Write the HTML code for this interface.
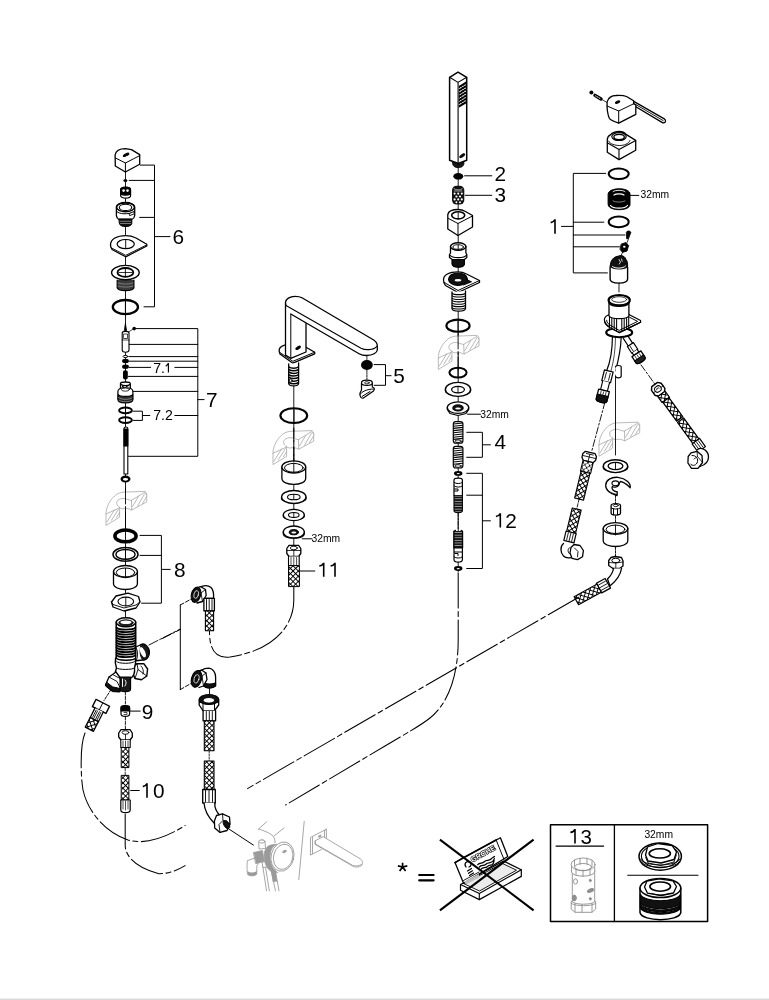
<!DOCTYPE html>
<html><head><meta charset="utf-8">
<style>
html,body{margin:0;padding:0;background:#fff;width:769px;height:1000px;overflow:hidden}
svg{display:block;position:absolute;left:0;top:0;will-change:transform}
.bl{position:absolute;left:0;top:998px;width:769px;height:2px;background:linear-gradient(#f0f0f0 0,#f0f0f0 50%,#d8d8d8 50%,#d8d8d8 100%)}
text{font-family:"Liberation Sans",sans-serif;fill:#000;stroke:none}
</style></head><body>
<svg width="769" height="1000" viewBox="0 0 769 1000">
<defs>
<pattern id="mesh" width="3.7" height="3.7" patternUnits="userSpaceOnUse" patternTransform="rotate(45)">
<rect width="3.7" height="3.7" fill="#fff"/><path d="M0,0 H3.7 M0,0 V3.7" stroke="#000" stroke-width="1.9" fill="none"/>
</pattern>
<pattern id="thr" width="4" height="2.6" patternUnits="userSpaceOnUse">
<rect width="4" height="2.6" fill="#111"/><rect y="1.7" width="4" height="0.55" fill="#fff"/>
</pattern>
<pattern id="hatchg" width="4" height="4" patternUnits="userSpaceOnUse" patternTransform="rotate(-55)">
<line x1="0" y1="0" x2="0" y2="4" stroke="#9a9a9a" stroke-width="0.8"/>
</pattern>
<g id="icon" fill="none" stroke="#a3a3a3" stroke-width="0.75" stroke-linejoin="round">
<path d="M0,34 V23 C0,16 4,8 11,3 C14,1.5 17,1 19,1.1 L38,0.4 C40,0.4 40.7,2 40.7,4 V10.9 L25.8,19 C23,18 21,17 19,17.5 C17,18 15,18 13.6,16.3 L13.6,25.8 Z" fill="#fff"/>
<path d="M0,23 L13.3,17 M25.4,9.4 L38.6,1.4 L40.7,4 M25.4,9.4 L25.8,19"/>
<path d="M13.6,16.3 C10,15 9.5,10 13,8.5 C15,7.5 17,7.3 18,7.5 C20,7.6 22,9 25.4,9.4"/>
<path d="M1,31 L8.5,18.8 M5.5,29.3 L12.3,18.5 M10.5,26.5 L13.5,21.5 M26.5,15.5 L32.5,5.5 M31.5,15 L38.5,3 M36.5,12.5 L40.5,6"/>
</g>
</defs>

<g id="main" fill="none" stroke="#000" stroke-width="1.1" stroke-linejoin="round" stroke-linecap="round">
<!-- ============ LEFT COLUMN (x=125.5) ============ -->
<g id="left">
<!-- center line -->
<path d="M125.5,172 V600" stroke-width="0.9"/>
<!-- cap -->
<path d="M115.3,166 L115.1,155 C116,150 120,148.6 125.3,148.6 L131.5,149.6 L139.7,154.6 L139.7,164.2 L125.4,172 Z" fill="#fff" stroke-width="1.3"/>
<path d="M115.5,158 L125.4,163 L139.7,155.6 M125.4,163 V172" stroke-width="1"/>
<ellipse cx="126.1" cy="154.8" rx="3" ry="0.95" transform="rotate(-28 126.1 154.8)" fill="#000"/>
<!-- dot -->
<ellipse cx="125.4" cy="180.6" rx="2" ry="1.5" fill="#000" stroke="none"/>
<!-- small piece -->
<path d="M120.6,190 C120.6,186 130.6,186 130.6,190 V195.5 C130.6,199 120.6,199 120.6,195.5 Z" fill="#fff" stroke-width="1.2"/>
<path d="M120.8,188.5 C122,187 129,187 130.4,188.5 V194 C128,195.5 123,195.5 120.8,194 Z" fill="#000"/>
<ellipse cx="123.6" cy="190.6" rx="1.3" ry="1.3" fill="#fff" stroke="none"/><ellipse cx="127.5" cy="190.6" rx="1.3" ry="1.3" fill="#fff" stroke="none"/>
<!-- part with thread -->
<path d="M116.4,207.5 C116.4,201.5 134.7,201.5 134.7,207.5 V215.5 C134.5,217.5 133,219 131.8,219.5 H119.3 C118,219 116.6,217.5 116.4,215.5 Z" fill="#fff" stroke-width="1.3"/>
<path d="M119.3,219 H131.8 V223.5 C131.5,227.6 119.6,227.6 119.3,223.5 Z" fill="#111" stroke-width="1"/>
<path d="M120.5,221.3 H130.6 M120.5,223.5 H130.6" stroke="#fff" stroke-width="0.45"/>
<ellipse cx="125.5" cy="207.2" rx="9" ry="4.6" stroke-width="1.5"/>
<ellipse cx="125.5" cy="207.4" rx="6.2" ry="3.1" stroke-width="1.1"/>
<path d="M116.8,211.5 C119,214.3 128,214.8 134.2,211.8" stroke-width="1"/>
<path d="M129.5,213.6 L133.6,211.6 L134.3,213.8 L130,215.5 Z" fill="#fff" stroke-width="0.9"/>
<!-- plate -->
<path d="M110.5,245 C110.5,239 117,235.6 125.7,235.6 C130,235.6 133,236.5 136,238 L146.8,244.2 L146.8,246 L125.7,256.8 L112,249.5 C111,248 110.5,247 110.5,245 Z" fill="#fff" stroke-width="1.3"/>
<ellipse cx="125.7" cy="244.1" rx="8.6" ry="4.6" stroke-width="1.2"/>
<path d="M111.2,247.8 L125.7,255.3 L146.6,245" stroke-width="0.9"/>
<!-- flange -->
<path d="M117.2,280 V288 C119,291.5 132,291.5 133.9,288 V280" fill="#3a3a3a" stroke-width="1.2"/>
<path d="M118,283 C121,284.5 130,284.5 133,283 M118,286 C121,287.5 130,287.5 133,286" stroke="#bbb" stroke-width="0.5"/>
<ellipse cx="125.4" cy="272.6" rx="13.8" ry="7.2" fill="#fff" stroke-width="1.4"/>
<ellipse cx="125.4" cy="272.4" rx="7.9" ry="4.4" stroke-width="1.8"/>
<path d="M119,272.5 H132" stroke-width="0.8"/>
<!-- o-ring -->
<ellipse cx="125.4" cy="307.1" rx="12.6" ry="7.1" stroke-width="2.3"/>
<!-- bracket 6 -->
<path d="M140.4,165.1 H154.5 V306.8 H144 M129.2,180.4 H154.5 M139.7,217.4 H154.5 M154.5,236.6 H170" stroke-width="1"/>
<text x="172.5" y="243.8" font-size="20.8">6</text>
<!-- ===== part 7 ===== -->
<path d="M124.3,330.5 L125.4,323.5 L126.6,330.5 Z" fill="#000" stroke-width="0.8"/>
<path d="M122.2,333 C122.2,330.8 129,330.8 129,333 V350 C129,353 122.2,353 122.2,350 Z" fill="#fff" stroke-width="1.1"/>
<path d="M123.8,334 H127.5 V338.5 H123.8 Z M122.2,340 H129" stroke-width="0.7"/>
<circle cx="134.2" cy="328.6" r="1.8" fill="#000" stroke="none"/>
<path d="M128.5,332 L133,329.2" stroke-width="0.7"/>
<ellipse cx="125.5" cy="356.5" rx="2.4" ry="1.1" fill="#fff" stroke-width="1"/>
<ellipse cx="125.5" cy="361" rx="3.4" ry="2.2" fill="#000" stroke="none"/>
<ellipse cx="125.5" cy="366.8" rx="3.4" ry="2.2" fill="#000" stroke="none"/>
<rect x="123" y="370.2" width="4.8" height="9.2" rx="2" fill="#000" stroke="none"/>
<!-- cartridge -->
<path d="M120.5,389 V383.5 C121,381.5 130,381.5 130.3,383.5 V389" fill="#fff" stroke-width="1.3"/>
<path d="M121,384.5 C123,386 128,386 130,384.5 M122.5,386.5 L124.5,388.5 M126.5,386.5 L128.5,385.5" stroke-width="1.2"/>
<path d="M117.9,391.5 C117.9,386.5 132.9,386.5 132.9,391.5 V399.5 C132.9,404 117.9,404 117.9,399.5 Z" fill="#fff" stroke-width="1.2"/>
<path d="M118.2,394.5 C120,397 131,397 132.6,394.5 V399.5 C131,403.5 120,403.5 118.2,399.5 Z" fill="#2a2a2a"/>
<path d="M118.6,397.6 C121,400 130,400 132.2,397.6 M118.8,400.2 C121,402.4 130,402.4 132,400.2" stroke="#ddd" stroke-width="0.5"/>
<ellipse cx="125.4" cy="389.6" rx="4" ry="1.6" fill="#fff" stroke-width="0.8"/>
<!-- o-rings 7.2 -->
<ellipse cx="125.5" cy="410.4" rx="6.4" ry="2.9" stroke-width="1.9"/>
<ellipse cx="125.5" cy="420.1" rx="6.4" ry="2.9" stroke-width="1.9"/>
<!-- stem -->
<path d="M124,428.5 C124,426.5 127.8,426.5 127.8,428.5 V474 H124 Z" fill="#fff" stroke-width="1.1"/>
<path d="M124,429 H127.8 V446 H124 Z" fill="#000"/>
<ellipse cx="125.5" cy="479" rx="5" ry="3.5" fill="#000" stroke="none"/>
<ellipse cx="125.5" cy="479.3" rx="2.6" ry="1.4" fill="#fff" stroke="none"/>
<!-- bracket 7 -->
<path d="M136,328.6 H197.8 V456.3 H128.5 M129.3,344.4 H197.8 M129.3,356.6 H197.8 M129.3,361.2 H197.8 M129.3,367.4 H150.6 M174.8,367.4 H197.8 M128.3,376.4 H197.8 M133.2,391.4 H197.8 M197.8,399.6 H204.1 M133.2,411.2 H142.4 V420.4 H133.2 M142.4,415.5 H149.8 M174.8,415.5 H197.8" stroke-width="1"/>
<text x="153.15" y="372.6" font-size="14.1">7.</text><path d="M168.4,372.6 V363.0 M168.2,363.5 C167.5,365.2 166.0,366.0 165.8,366.3" stroke-width="1.15" stroke-linecap="butt" fill="none"/>
<text x="153.25" y="420.1" font-size="14.1">7.2</text>
<text x="206.1" y="406.7" font-size="20.8">7</text>
<!-- icon left -->
<use href="#icon" x="106" y="491"/>
<!-- ===== part 8 ===== -->
<ellipse cx="125.5" cy="535.9" rx="10.6" ry="5.95" stroke-width="3.5"/>
<ellipse cx="125.5" cy="554.4" rx="12.5" ry="6.9" stroke-width="1.5"/>
<ellipse cx="125.5" cy="554.4" rx="9.6" ry="4.9" stroke-width="1.4"/>
<path d="M113.5,571.5 V583.5 C113.5,591.5 137.4,591.5 137.4,583.5 V571.5" fill="#fff" stroke-width="1.3"/>
<ellipse cx="125.5" cy="571.5" rx="11.95" ry="6" fill="#fff" stroke-width="1.3"/>
<ellipse cx="125.5" cy="572.5" rx="9.2" ry="4.5" stroke-width="1"/>
<path d="M111.5,602 L116,596 L128,593.2 L138.5,596.5 L140,602 L136,608 L124,611 L113,607 Z" fill="#fff" stroke-width="1.3"/>
<path d="M111.5,602 L113,604.5 L124,608 L136,605 L140,602" stroke-width="0.9"/>
<ellipse cx="125.8" cy="601.5" rx="7.8" ry="4.4" stroke-width="1.1"/>
<path d="M140,535.4 H161.4 V603.2 H141.6 M140,555.4 H161.4 M161.4,569.4 H170.2" stroke-width="1"/>
<text x="173.9" y="577.1" font-size="20.8">8</text>
<!-- ===== valve body ===== -->
<path d="M125.5,611 V618" stroke-width="0.9"/>
<!-- right upper outlet -->
<path d="M134,648 L141,644.5 C145,642.5 150,648 149.3,653 C149,657 146,660.5 142.5,660 L134,661 Z" fill="#fff" stroke-width="1.3"/>
<path d="M141,644.5 C144,643 149.5,648 149,654 C148.5,658 146,660 143.5,660 C140.5,659 139,651 141,644.5 Z" fill="#1a1a1a" stroke-width="1"/>
<ellipse cx="142.8" cy="652.2" rx="2.3" ry="5.5" transform="rotate(-25 142.8 652.2)" fill="#fff" stroke="none"/>
<path d="M136.5,648.5 C138,652 138,656 136.5,660" stroke-width="0.9"/>
<!-- right lower hex -->
<path d="M133.5,667 L137,663.6 L144,663.8 L147.6,669 L146.8,676 L141.5,679.7 L135,678.5 L132.7,673 Z" fill="#fff" stroke-width="1.4"/>
<path d="M137,663.6 L138,669.5 L146.8,676 M138,669.5 L135,678.5 M141,666 C143,668 144,671 143,674" stroke-width="0.9"/>
<!-- body -->
<path d="M115.6,658 C115,661 115.5,665 116.5,668 L115.3,672 C115.3,676 118,678 121,678 H131 C134,676 134.9,672 134.5,668 C135.5,665 135.8,661 135.5,658 Z" fill="#fff" stroke-width="1.4"/>
<path d="M116.5,661.5 C118,664 133,664 134.5,661.5 M116.5,668 C118,670 133,670 134.5,668" stroke-width="1"/>
<!-- threaded shank -->
<path d="M116.2,622 V657.5 C116.2,661 135.7,661 135.7,657.5 V622" fill="#fff" stroke-width="1.5"/>
<g stroke-width="1.65">
<path d="M116.5,627.5 C118,630.3 133.8,630.3 135.4,627.5 M116.5,630 C118,632.8 133.8,632.8 135.4,630 M116.5,632.5 C118,635.3 133.8,635.3 135.4,632.5 M116.5,635 C118,637.8 133.8,637.8 135.4,635 M116.5,637.5 C118,640.3 133.8,640.3 135.4,637.5 M116.5,640 C118,642.8 133.8,642.8 135.4,640 M116.5,642.5 C118,645.3 133.8,645.3 135.4,642.5 M116.5,645 C118,647.8 133.8,647.8 135.4,645 M116.5,647.5 C118,650.3 133.8,650.3 135.4,647.5 M116.5,650 C118,652.8 133.8,652.8 135.4,650 M116.5,652.5 C118,655.3 133.8,655.3 135.4,652.5 M116.5,655 C118,657.8 133.8,657.8 135.4,655"/>
</g>
<ellipse cx="125.95" cy="622.3" rx="9.75" ry="4.5" fill="#fff" stroke-width="1.5"/>
<ellipse cx="125.95" cy="622.8" rx="7.2" ry="3" fill="#222" stroke-width="0.8"/>
<ellipse cx="125.95" cy="622.2" rx="5.5" ry="1.8" fill="#fff" stroke="none"/>
<!-- left outlet -->
<path d="M116,672 L109,677 L105.5,685 L112,690.5 L120,691.5 L124,683 Z" fill="#fff" stroke-width="1.3"/>
<path d="M106.5,682.5 L105.5,686 L112.5,691.6 L119.5,692 L120.2,688.5 L113,687 Z" fill="#111" stroke-width="1"/>
<path d="M109,677 L117,681.5 L120.5,688.5 M113.5,675 L121,679" stroke-width="0.9"/>
<!-- bottom outlet -->
<path d="M120,677 V689 C120,692.5 130.6,692.5 130.6,689 V677 Z" fill="#1a1a1a" stroke-width="1.1"/>
<path d="M122.5,679 V686.5 M125,680 C126.5,681.5 126.5,684 125,686" stroke="#fff" stroke-width="1"/>
<!-- dashed from upper outlet to bracket -->
<path d="M149,645 L180.2,629" stroke-width="0.9" stroke-dasharray="10 2 2 2"/>
<!-- part 9 -->
<path d="M125.4,692 V706" stroke-width="0.9" stroke-dasharray="3 1.5"/>
<path d="M121,708 C121,705 129.6,705 129.6,708 V714 C129.6,717.2 121,717.2 121,714 Z" fill="#fff" stroke-width="1.2"/>
<path d="M121,707.5 C121,705 129.6,705 129.6,707.5 V711 H121 Z" fill="#000"/>
<path d="M124,712.5 H127 V714.5 H124" stroke-width="0.7"/>
<path d="M130.5,711.1 H140.2" stroke-width="1"/>
<text x="141.7" y="719.2" font-size="20.8">9</text>
<path d="M125.4,717 V729" stroke-width="0.9" stroke-dasharray="3 1.5"/>
<!-- left connector (rotated) -->
<path d="M110.8,689.9 L104,700.5" stroke-width="0.95" stroke-dasharray="2.5 1.5"/>
<g transform="translate(101 706.4) rotate(27)">
<path d="M-7.6,-4 H7.6 V4 H-7.6 Z" fill="#fff" stroke-width="1.4"/>
<path d="M0,-4 V4" stroke-width="0.9"/>
<path d="M-4.6,4 V14.8 H4.6 V4" fill="#fff" stroke-width="1.3"/>
<path d="M-2.6,5.5 V13.5 M-1,5.5 V13.5 M1,5.5 V13.5 M2.6,5.5 V13.5" stroke-width="0.8"/>
<rect x="-4.6" y="14.8" width="9.2" height="10.8" fill="url(#mesh)" stroke-width="1.3"/>
</g>
<!-- hose 10 -->
<path d="M118.7,733 L121,729.6 H130 L132.3,733 V737 L130,740 H121 L118.7,737 Z" fill="#fff" stroke-width="1.3"/>
<ellipse cx="125.5" cy="732.5" rx="3.4" ry="1.8" stroke-width="0.9"/>
<path d="M125.5,734.3 V740" stroke-width="0.8"/>
<path d="M120.8,740 V747.5 H130.2 V740" fill="#fff" stroke-width="1.1"/>
<path d="M123,741 V747 M125.5,741 V747 M128,741 V747" stroke-width="0.7"/>
<rect x="121.6" y="747.5" width="7.3" height="20.1" fill="url(#mesh)" stroke-width="1"/>
<path d="M125.2,767.6 V775.4" stroke-width="0.8" stroke-dasharray="3 1.5"/>
<rect x="121.6" y="775.4" width="7.3" height="24.7" fill="url(#mesh)" stroke-width="1"/>
<path d="M120.8,800 V810 C121,813.5 130,813.5 130.2,810 V800 Z" fill="#fff" stroke-width="1.2"/>
<path d="M123,801 V809 M125.5,801 V810 M128,801 V809" stroke-width="0.7"/>
<path d="M130.7,790.5 H139.3" stroke-width="1"/>
<path d="M147.0,797.8 V783.3 M146.8,783.8 C146.1,785.5 144.6,786.3 142.8,786.6" stroke-width="1.60" stroke-linecap="butt" fill="none"/><text x="152.9" y="797.8" font-size="20.8">0</text>
</g>
<!-- ============ MIDDLE COLUMN (x=294) ============ -->
<g id="mid">
<path d="M293.8,385 V588" stroke-width="0.9"/>
<!-- base plate -->
<path d="M284.5,345.1 C280,346.5 278.8,349 279.2,351.5 L280,354 L292.9,363.2 L314.7,353.8 V352.2 L306,347.2" fill="#fff" stroke-width="1.3"/>
<path d="M279.8,352.5 L292.9,361.3 L314.7,352.2" stroke-width="1"/>
<!-- column -->
<path d="M285.5,302.6 V355.1 L290.8,358.3 L306,352 V322.7 Z" fill="#fff" stroke-width="1.3"/>
<path d="M290.8,314 V358.3" stroke-width="1"/>
<ellipse cx="298.1" cy="347.8" rx="2.6" ry="1" transform="rotate(-30 298.1 347.8)" fill="#000"/>
<!-- spout bar -->
<path d="M286,305.5 L285.5,302.6 C285.5,299 290,296.3 295,296.3 C298,296.3 300,296.6 302,297.8 L373.7,340 C376.5,341.8 377.4,343.5 377.3,346 V350 C377,352.8 373,355.5 366.4,355.5 C363.5,355.5 361,354.8 359.1,353.7 L290.8,314" fill="#fff" stroke-width="1.3"/>
<path d="M286,305.5 L361,348.2 C363.5,349.5 366,349.8 369.1,349.6 C372.5,349.3 375.5,348 376.8,346.3" stroke-width="1.1"/>
<!-- threaded stem -->
<path d="M288.7,364 V383.5 C289,386.8 298.3,386.8 298.6,383.5 V363" fill="#fff" stroke-width="1.3"/>
<path d="M289,367 C291,368.6 296.5,368.6 298.3,367 M289,369.6 C291,371.2 296.5,371.2 298.3,369.6 M289,372.2 C291,373.8 296.5,373.8 298.3,372.2 M289,374.8 C291,376.4 296.5,376.4 298.3,374.8 M289,377.4 C291,379 296.5,379 298.3,377.4 M289,380 C291,381.6 296.5,381.6 298.3,380 M289,382.6 C291,384.2 296.5,384.2 298.3,382.6" stroke-width="1.5"/>
<ellipse cx="290.8" cy="380.5" rx="1.3" ry="1.8" fill="#fff" stroke-width="0.9"/>
<!-- part 5 -->
<path d="M366.9,356 V360" stroke-width="0.8"/>
<ellipse cx="366.9" cy="365" rx="5.9" ry="5" fill="#000" stroke="none"/>
<path d="M366.9,370 V380" stroke-width="0.9" stroke-dasharray="1.6 1"/>
<path d="M361.5,383 V390 L360,393 C359.5,396.5 361,398.5 363,398.2 L373.5,391 C375,389 374.5,387.5 372.3,387 V383" fill="#fff" stroke-width="1.2"/>
<ellipse cx="366.9" cy="382.8" rx="5.4" ry="2.6" fill="#fff" stroke-width="1.2"/>
<ellipse cx="366.9" cy="382.8" rx="2.4" ry="1.1" stroke-width="0.8"/>
<path d="M360,394.5 C361,392 367,389 373.5,389 M362,396.5 L370,391.5" stroke-width="1"/>
<path d="M374.1,364.6 H385.5 V385.3 H374.1 M385.5,375.7 H391.1" stroke-width="1"/>
<text x="393.3" y="382.9" font-size="20.8">5</text>
<!-- o-ring -->
<ellipse cx="293.8" cy="415.6" rx="13.4" ry="7.4" fill="none" stroke-width="2.1"/>
<use href="#icon" x="273" y="430.2"/>
<path d="M293.8,430 V461" stroke-width="0.9" stroke-dasharray="8 2 2 2"/>
<!-- sleeve -->
<path d="M281.9,466.9 V478.2 C281.9,486.5 305.7,486.5 305.7,478.2 V466.9" fill="#fff" stroke-width="1.3"/>
<ellipse cx="293.8" cy="466.9" rx="11.9" ry="6.1" fill="#fff" stroke-width="1.3"/>
<ellipse cx="293.8" cy="467.8" rx="9.3" ry="4.4" stroke-width="1"/>
<!-- washers -->
<path d="M281.5,497 V499 C282,503 305,503 306,499 V497" fill="#fff" stroke-width="1.2"/>
<ellipse cx="293.8" cy="497" rx="12.2" ry="6.5" fill="#fff" stroke-width="1.3"/>
<ellipse cx="293.8" cy="497" rx="6.3" ry="2.8" stroke-width="1.1"/>
<path d="M283.3,515 V516.5 C284,520.5 303.6,520.5 304.3,516.5 V515" fill="#fff" stroke-width="1.2"/>
<ellipse cx="293.8" cy="515" rx="10.5" ry="5.6" fill="#fff" stroke-width="1.3"/>
<ellipse cx="293.8" cy="515" rx="5.3" ry="2.5" stroke-width="1.1"/>
<path d="M283.3,532 V534 C284,539.5 303.6,539.5 304.3,534 V532" fill="#fff" stroke-width="1.3"/>
<ellipse cx="293.8" cy="532" rx="10.5" ry="6" fill="#fff" stroke-width="1.3"/>
<ellipse cx="293.8" cy="532.2" rx="4.6" ry="2.6" fill="#1a1a1a" stroke-width="1"/>
<ellipse cx="293.8" cy="532.6" rx="2.4" ry="1" fill="#fff" stroke="none"/>
<path d="M302.2,538.8 H312" stroke-width="1"/>
<text x="311.6" y="542.3" font-size="10.3">32mm</text>
<!-- hose 11 -->
<path d="M286.8,548.5 L289,545.3 H298.6 L300.8,548.5 V553.5 L298.6,556.5 H289 L286.8,553.5 Z" fill="#fff" stroke-width="1.3"/>
<ellipse cx="293.8" cy="548" rx="3.5" ry="1.8" stroke-width="0.9"/>
<path d="M293.8,550 V556.5 M286.8,550.5 L293.8,550.5 L300.8,550.5" stroke-width="0.8"/>
<path d="M288.5,556.5 V565.6 H299.2 V556.5" fill="#fff" stroke-width="1.1"/>
<path d="M291,557.5 V565 M293.8,557.5 V565 M296.6,557.5 V565" stroke-width="0.7"/>
<rect x="288.9" y="565.6" width="10.5" height="21" fill="url(#mesh)" stroke-width="1"/>
<path d="M300.1,571 H314.8" stroke-width="1"/>
<path d="M323.7,576.8 V562.7 M323.5,563.2 C322.8,564.9 321.3,565.7 319.3,566.0" stroke-width="1.60" stroke-linecap="butt" fill="none"/><path d="M335.0,576.8 V562.7 M334.8,563.2 C334.1,564.9 332.6,565.7 330.6,566.0" stroke-width="1.60" stroke-linecap="butt" fill="none"/>
</g>
<!-- ============ COLUMN 3 (x=458.2) ============ -->
<g id="c3">
<path d="M458.2,164 V572" stroke-width="0.9"/>
<!-- hand shower -->
<path d="M449.6,77.3 L458,72.2 L466.7,77.3 V160.2 L458.3,163.5 L449.6,160.2 Z" fill="#fff" stroke-width="1.5"/>
<path d="M449.6,77.3 L458,82.4 L466.7,77.3 M458.1,82.4 V163.5" stroke-width="1.1"/>
<g fill="#000" stroke="none">
<path d="M458.8,86 L466,81.6 V84.2 L458.8,88.6 Z"/>
<path d="M458.8,89.2 L466,84.8 V87.4 L458.8,91.8 Z"/>
<path d="M458.8,92.4 L466,88 V90.6 L458.8,95 Z"/>
<path d="M458.8,95.6 L466,91.2 V93.8 L458.8,98.2 Z"/>
<path d="M458.8,98.8 L466,94.4 V97 L458.8,101.4 Z"/>
<path d="M458.8,102 L466,97.6 V100.2 L458.8,104.6 Z"/>
<path d="M458.8,105.2 L466,100.8 V103.4 L458.8,107.8 Z"/>
</g>
<g fill="#fff" stroke="none">
<circle cx="460.6" cy="87.8" r="0.55"/><circle cx="463" cy="86.3" r="0.55"/><circle cx="465" cy="85" r="0.55"/>
<circle cx="460.6" cy="91" r="0.55"/><circle cx="463" cy="89.5" r="0.55"/><circle cx="465" cy="88.2" r="0.55"/>
<circle cx="460.6" cy="94.2" r="0.55"/><circle cx="463" cy="92.7" r="0.55"/><circle cx="465" cy="91.4" r="0.55"/>
<circle cx="460.6" cy="97.4" r="0.55"/><circle cx="463" cy="95.9" r="0.55"/><circle cx="465" cy="94.6" r="0.55"/>
<circle cx="460.6" cy="100.6" r="0.55"/><circle cx="463" cy="99.1" r="0.55"/><circle cx="465" cy="97.8" r="0.55"/>
<circle cx="460.6" cy="103.8" r="0.55"/><circle cx="463" cy="102.3" r="0.55"/><circle cx="465" cy="101" r="0.55"/>
</g>
<ellipse cx="462.2" cy="155.7" rx="2.8" ry="1" transform="rotate(-35 462.2 155.7)" fill="#000"/>
<path d="M452.5,162.3 C452.5,166.5 455,167.5 458.3,167.5 C461.5,167.5 464,166.5 464,162.3 L458.3,164.5 Z" fill="#1a1a1a" stroke-width="0.9"/>
<!-- part 2 -->
<ellipse cx="458.3" cy="176.3" rx="5" ry="3.3" fill="#000" stroke="none"/>
<path d="M464.6,175.8 H491.8" stroke-width="1"/>
<text x="494.6" y="181.2" font-size="20.8">2</text>
<!-- part 3 -->
<rect x="452" y="185.7" width="12.3" height="18.9" rx="4.5" fill="#111" stroke="none"/>
<g fill="#fff" stroke="none">
<circle cx="454.6" cy="193.6" r="1.05"/><circle cx="458.2" cy="193.6" r="1.05"/><circle cx="461.8" cy="193.6" r="1.05"/>
<circle cx="456.4" cy="196.5" r="1.1"/><circle cx="460" cy="196.5" r="1.1"/>
<circle cx="454.6" cy="199.4" r="1.1"/><circle cx="458.2" cy="199.4" r="1.1"/><circle cx="461.8" cy="199.4" r="1.1"/>
<circle cx="456.4" cy="202.2" r="0.95"/><circle cx="460" cy="202.2" r="0.95"/>
</g>
<path d="M454,188.8 C456,190.3 460.5,190.3 462.3,188.8 M454.3,191 H462" stroke="#fff" stroke-width="0.6"/>
<path d="M465.2,195.3 H491.8" stroke-width="1"/>
<text x="494.4" y="201.7" font-size="20.8">3</text>
<!-- nut cube -->
<path d="M447.8,214.5 C448.5,211 453,209.5 458,209.5 C461,209.5 463,210 465,211.2 L472.5,215.5 V227 L458,235.5 L447.8,229 Z" fill="#fff" stroke-width="1.3"/>
<path d="M448.5,218.5 L458,223.5 L472.5,216 M458,223.5 V235.5" stroke-width="1"/>
<ellipse cx="458.2" cy="215.3" rx="6.5" ry="3.6" stroke-width="1.6"/>
<!-- fitting -->
<path d="M450.5,246.5 V253 L449.5,254.5 V257.5 L452.2,259.5 V264 C453,268 463.5,268 464.3,264 V259.5 L466.8,257.5 V254.5 L465.9,253 V246.5" fill="#fff" stroke-width="1.3"/>
<path d="M452.3,259.5 H464.3 V264 C463.5,268 453,268 452.3,264 Z" fill="#111"/>
<path d="M449.8,255 C452,258.5 464.5,258.5 466.5,255" stroke-width="1.1"/>
<ellipse cx="458.2" cy="246.5" rx="7.7" ry="3.8" fill="#fff" stroke-width="1.4"/>
<ellipse cx="458.2" cy="247" rx="5.3" ry="2.3" stroke-width="0.9"/>
<!-- flange -->
<path d="M443.5,280 C443.5,275 449,271.8 458,271.8 C461.5,271.8 464,272.5 466.5,274 L479.5,280.5 V282.5 L458,292.5 L445.5,285.5 C444,284 443.5,282 443.5,280 Z" fill="#fff" stroke-width="1.3"/>
<path d="M444,282.3 L458,290.5 L479.5,280.5" stroke-width="1"/>
<ellipse cx="458" cy="279.2" rx="9.5" ry="6.2" fill="#111"/>
<path d="M466.5,279.5 L471.5,281.8 L463.5,285" fill="#111" stroke-width="0.9"/>
<ellipse cx="458" cy="280.2" rx="3.3" ry="1.2" fill="#fff" stroke="none"/>
<!-- threaded -->
<path d="M452,292 V308.5 C452.5,312 465,312 465.5,308.5 V291" fill="#fff" stroke-width="1.3"/>
<path d="M452.3,293.5 C454,295 463.5,295 465.2,293.5 M452.3,295.9 C454,297.4 463.5,297.4 465.2,295.9 M452.3,298.3 C454,299.8 463.5,299.8 465.2,298.3 M452.3,300.7 C454,302.2 463.5,302.2 465.2,300.7 M452.3,303.1 C454,304.6 463.5,304.6 465.2,303.1 M452.3,305.5 C454,307 463.5,307 465.2,305.5 M452.3,307.9 C454,309.4 463.5,309.4 465.2,307.9" stroke-width="1.1"/>
<!-- o-ring -->
<ellipse cx="458" cy="325.7" rx="11.6" ry="6.1" stroke-width="2.1"/>
<use href="#icon" x="438.3" y="335"/>
<!-- small o-ring -->
<ellipse cx="458" cy="372.6" rx="8.6" ry="4.9" stroke-width="2"/>
<!-- washer -->
<path d="M445.4,389.4 V391 C446,396.5 470,396.5 470.6,391 V389.4" fill="#fff" stroke-width="1.2"/>
<ellipse cx="458" cy="389.4" rx="12.6" ry="7" fill="#fff" stroke-width="1.4"/>
<ellipse cx="458" cy="389.6" rx="6.4" ry="3.3" stroke-width="1.3"/>
<!-- 32mm nut -->
<path d="M447.3,407.6 V409.5 L450,413.5 L458,415.5 L466,413.5 L468.7,409.5 V407.6" fill="#fff" stroke-width="1.2"/>
<ellipse cx="458" cy="407.6" rx="10.7" ry="5.8" fill="#fff" stroke-width="1.3"/>
<ellipse cx="458" cy="407.9" rx="5.2" ry="3" fill="#111"/>
<ellipse cx="458" cy="408.6" rx="2.8" ry="1" fill="#fff" stroke="none"/>
<path d="M467.5,414.2 H480.5" stroke-width="1"/>
<text x="480.2" y="417.6" font-size="10.3">32mm</text>
<!-- springs -->
<g id="spring">
<rect x="453.3" y="421.6" width="9.6" height="21.6" rx="2.5" fill="#fff" stroke-width="1.2"/>
<path d="M453.6,424 L462.6,423 M453.6,426.2 L462.6,425.2 M453.6,428.4 L462.6,427.4 M453.6,430.6 L462.6,429.6 M453.6,432.8 L462.6,431.8 M453.6,435 L462.6,434 M453.6,437.2 L462.6,436.2 M453.6,439.4 L462.6,438.4" stroke-width="1.1"/>
<ellipse cx="458.1" cy="441.2" rx="3.2" ry="1.3" stroke-width="0.9"/>
</g>
<use href="#spring" y="24.8"/>
<path d="M466.7,432.3 H482.4 V457.3 H466.7 M482.4,444.8 H490.4" stroke-width="1"/>
<text x="494.5" y="448.9" font-size="20.8">4</text>
<!-- part 12 -->
<ellipse cx="458.2" cy="473.4" rx="4.2" ry="2.4" fill="#000" stroke="none"/>
<ellipse cx="458.2" cy="473.6" rx="1.6" ry="0.6" fill="#fff" stroke="none"/>
<path d="M454,480 C454,477.5 462.4,477.5 462.4,480 V495.5 H454 Z" fill="#fff" stroke-width="1.2"/>
<path d="M454.2,482.5 C456,484 460.5,484 462.2,482.5 M454.2,486 C456,487.5 460.5,487.5 462.2,486 M454.5,489 H458 V491 H454.5" stroke-width="1"/>
<path d="M454,495.5 V510.5 C454,513.5 462.4,513.5 462.4,510.5 V495.5" fill="url(#thr)" stroke-width="1.1"/>
<path d="M458.2,513 V530" stroke-width="0.9" stroke-dasharray="4 1.5 1.5 1.5"/>
<path d="M454,531 L455.5,530 V548 H454 Z M462.4,531 L461,530 V548 H462.4 Z" fill="#000" stroke-width="0.8"/>
<path d="M454,531 V548 H462.4 V531" fill="url(#thr)" stroke-width="1.1"/>
<path d="M454,548 V559.5 C454,563 462.4,563 462.4,559.5 V548 Z" fill="#fff" stroke-width="1.2"/>
<path d="M454.2,552 H462.2 M454.2,557 C456,558.5 460.5,558.5 462.2,557 M455,553.5 H458 V555.5" stroke-width="1"/>
<ellipse cx="458.2" cy="568.5" rx="4.2" ry="2.4" fill="#000" stroke="none"/>
<ellipse cx="458.2" cy="568.7" rx="1.6" ry="0.6" fill="#fff" stroke="none"/>
<path d="M466.7,473.3 H482.4 V568.5 H466.7 M466.7,495.2 H482.4 M482.4,520.8 H490.4" stroke-width="1"/>
<path d="M500.3,527.6 V513.2 M500.1,513.7 C499.4,515.4 497.9,516.2 495.9,516.5" stroke-width="1.60" stroke-linecap="butt" fill="none"/><text x="505.3" y="527.6" font-size="20.8">2</text>
</g>
<!-- ============ RIGHT COLUMN (x=619) ============ -->
<g id="c4">
<path d="M615.5,375 V421" stroke-width="0.9"/>
<!-- handle -->
<circle cx="591.4" cy="92.4" r="2" fill="#000" stroke="none"/>
<path d="M595,95.4 L601,99" stroke-width="3.4" stroke-linecap="round"/>
<path d="M595.6,95.9 L596.3,96.3 M597.4,96.9 L598.1,97.3 M599.2,98 L599.9,98.4" stroke="#fff" stroke-width="0.9"/>
<path d="M602.5,99.8 L607.1,102.6" stroke-width="0.8"/>
<path d="M628.5,98.4 L664.3,118.9 C666.3,120.2 665.8,123 663.5,122.9 C663,122.9 662.5,122.7 662,122.4 L632.5,104.8" fill="#fff" stroke-width="1.3"/>
<path d="M633.5,103.2 L663.2,120.6" stroke-width="0.9"/>
<path d="M607.1,101.6 C608.5,97.5 612,95.5 616,95.5 C620,95.2 624,95.5 626.5,96.5 L633.6,100.8 V103.8 L635.8,105 V114.3 L618.7,123.1 C614,121.5 610,119.5 609.3,118.2 C607.5,114 606.8,109 607.1,101.6 Z" fill="#fff" stroke-width="1.3"/>
<path d="M607.1,106 L618.7,111 L633.6,103.8 M618.7,111 V123.1" stroke-width="1"/>
<ellipse cx="617.6" cy="102.1" rx="2.3" ry="1" transform="rotate(-22 617.6 102.1)" fill="#000"/>
<!-- cap -->
<path d="M607.3,152.3 V139.5 C607.5,137 609,135.5 610.4,134.9 C612.5,132.5 616,131.5 619.3,131.5 C622,131.5 624.5,132.5 626,134.4 L635.7,140.4 V150.3 L619,159.6 Z" fill="#fff" stroke-width="1.3"/>
<path d="M607.3,142.7 L619,149.5 L635.7,140.4 M619,149.5 V159.6" stroke-width="1.1"/>
<path d="M608.5,141 C610,144 615,145.5 619.5,145.5 C624,145.5 628.5,144 630,140.5" stroke-width="0.9"/>
<ellipse cx="619" cy="136.6" rx="7.2" ry="3.9" stroke-width="1.2"/>
<ellipse cx="619.1" cy="137" rx="5.2" ry="2.6" stroke-width="1.3"/>
<!-- o-ring -->
<ellipse cx="618.7" cy="173.8" rx="10" ry="5.3" stroke-width="2"/>
<!-- 32mm nut -->
<path d="M608.1,194 C608.1,187 630,187 630,194 V204.5 C630,211.5 608.1,211.5 608.1,204.5 Z" fill="#000" stroke-width="1"/>
<path d="M610.5,205.5 C613,209 625,209 627.5,205.5" stroke="#fff" stroke-width="1.2"/>
<path d="M613,191.6 C615,189.8 623,189.8 625,191.6" stroke="#fff" stroke-width="0.9"/>
<path d="M614,195 C616,193.6 622,193.6 624,195" stroke="#fff" stroke-width="1.2"/>
<path d="M613,201 C616,202.5 622,202.5 625,201" stroke="#fff" stroke-width="0.5"/>
<path d="M630,195.4 H638.8" stroke-width="1"/>
<text x="640.5" y="198.2" font-size="10.3">32mm</text>
<!-- o-ring 2 -->
<ellipse cx="618.7" cy="221.9" rx="10" ry="5.3" stroke-width="2"/>
<!-- small pieces -->
<path d="M626.5,232 C627,230.5 630.5,230.5 630.8,232.5 L628.5,238.5 L627,238.7 Z" fill="#000" stroke-width="0.9"/>
<path d="M621.5,244 L626,242.6 L628.6,245.5 L627,251 L622.5,252.4 L620.2,249.5 Z" fill="#000" stroke-width="0.9"/>
<ellipse cx="624.3" cy="246.8" rx="1.3" ry="1" fill="#fff" stroke="none"/>
<path d="M628.5,239 L627,242.5 M622.5,252.5 L621,255.5" stroke-width="0.8"/>
<!-- cartridge -->
<path d="M610.1,267 V279 C610.1,284.5 627.6,284.5 627.6,279 V267" fill="#fff" stroke-width="1.4"/>
<path d="M610.3,266 C610.3,260 614,257 617,256.5 L620.5,255.5 C623.5,255.5 625.5,257.5 626,259.5 C627.5,261 627.6,263.5 627.6,266 C627.6,270 610.3,270 610.3,266 Z" fill="#111" stroke-width="1"/>
<path d="M612.5,266.5 C615,268.8 623,268.8 625.5,266" stroke="#fff" stroke-width="1"/>
<path d="M619,259.5 L620.5,262 L619.3,264 M621.5,259 L622.2,261.3" stroke="#fff" stroke-width="0.8"/>
<!-- bracket 1 -->
<path d="M605.6,173.4 H573.3 V272.9 H607.4 M603.8,222.2 H573.3 M625,235 H573.3 M619.5,246.8 H573.3 M573.3,226.4 H561.5" stroke-width="1"/>
<path d="M555.0,233.7 V219.3 M554.8,219.8 C554.1,221.5 552.6,222.3 550.7,222.6" stroke-width="1.60" stroke-linecap="butt" fill="none"/>
<!-- body -->
<path d="M619,283 V292" stroke-width="0.9"/>
<!-- ring nut -->
<ellipse cx="619.2" cy="332.6" rx="13" ry="4.6" fill="#fff" stroke-width="2.1"/>
<!-- flange -->
<path d="M608.3,315 C605.5,316 604.4,318 604.4,320.1 C604.4,324 607,326 610,327.5 L619.2,332.6 L640.6,322.3 V320.5 L628.9,314.5 Z" fill="#fff" stroke-width="1.2"/>
<!-- ribbed column -->
<path d="M609.3,316 V327.5 C612,331 626,331 628.7,327.5 V316 Z" fill="#fff" stroke="none"/>
<path d="M609.5,317 V328 M611.8,318.5 V329.3 M614.2,319 V330 M616.6,319.2 V330.4 M621.8,319.2 V330.4 M624.2,319 V330 M626.6,318.5 V329.3 M628.7,317 V328" stroke-width="1.05"/>
<path d="M606.6,320.3 C606.6,323 609,324.5 611,325.6 L619.2,330.4 L637.6,321.4 L629.5,317.2" stroke-width="1"/>
<path d="M604.6,321.5 C605.5,324.5 607.5,326 610,327.5 L619.2,332.6 L640.6,322.3" stroke-width="1.2"/>
<!-- cylinder -->
<path d="M609,300 V316 C611,319.5 627,319.5 628.9,316 V300" fill="#fff" stroke-width="1.3"/>
<ellipse cx="619.2" cy="300.2" rx="10.6" ry="5.2" fill="#fff" stroke-width="2.2"/>
<path d="M609.5,303.5 C612,307 626,307 628.5,303.5" stroke-width="1.6"/>
<ellipse cx="619.2" cy="299.5" rx="7.5" ry="2.8" stroke-width="0.8"/>
<!-- left tube -->
<path d="M612.4,337 C612.4,350 611,360 606.6,371 M621.2,337 C620.8,350 618.5,360 615.5,371" fill="#fff" stroke-width="1.2"/>
<path d="M615.5,337.5 C615.3,350 614,360 611,371" stroke-width="0.7"/>
<g transform="translate(608.8 371) rotate(14)">
<path d="M-4.5,0 V11 H4.5 V0 Z" fill="#fff" stroke-width="1.2"/>
<path d="M-2,2 V9 M2,2 V9" stroke-width="0.8"/>
<path d="M-3.5,11 V20 H3.5 V11" fill="#fff" stroke-width="1.1"/>
<path d="M-5.5,20 H5.5 V30 C5.5,33 -5.5,33 -5.5,30 Z" fill="#fff" stroke-width="1.3"/>
<path d="M-5.5,25 H5.5 V30 C5.5,33 -5.5,33 -5.5,30 Z" fill="#111"/>
<path d="M-2.5,21.5 V24.5 M0,21.5 V24.5 M2.5,21.5 V24.5" stroke-width="0.7"/>
</g>
<!-- small cylinder -->
<path d="M615.5,367 C615.5,365 621.2,365 621.2,367 V376 C621.2,378.4 615.5,378.4 615.5,376" fill="#fff" stroke-width="1.2"/>
<!-- right tube -->
<g transform="translate(625.5 337) rotate(-33)">
<path d="M-2.6,0 V9 M2.6,0 V9" stroke-width="1.2"/>
<path d="M-3.6,9 H3.6 V17 H-3.6 Z" fill="#fff" stroke-width="1.2"/>
<path d="M-1.2,10 V16" stroke-width="0.8"/>
<path d="M-3,17 V20 H3 V17" fill="#fff" stroke-width="1.1"/>
<path d="M-5.3,20 H5.3 V27.5 C5.3,30.5 -5.3,30.5 -5.3,27.5 Z" fill="#fff" stroke-width="1.3"/>
<path d="M-5.3,25 H5.3 V27.5 C5.3,30.5 -5.3,30.5 -5.3,27.5 Z" fill="#222"/>
<path d="M-2.5,21.5 V24 M0,21.5 V24 M2.5,21.5 V24" stroke-width="0.7"/>
</g>
<path d="M641,364.9 L654.5,383.6" stroke-width="0.9" stroke-dasharray="7 2 2 2"/>
<!-- right hose -->
<g transform="translate(658.2 389.4) rotate(-36)">
<path d="M-6,-3.2 L-3.6,-6 H3.6 L6,-3.2 V3.2 L3.6,5.6 H-3.6 L-6,3.2 Z" fill="#fff" stroke-width="1.4"/>
<ellipse cx="0" cy="-0.5" rx="3.5" ry="3" fill="#fff" stroke-width="1"/>
<path d="M-1.5,-0.5 C-1,-2 1,-2 1.5,-0.5 M-6,0 H-3.5 M3.5,0 H6" stroke-width="0.8"/>
<path d="M-4.6,5.6 H4.6 V13 H-4.6 Z" fill="url(#mesh)" stroke-width="1.1"/>
<rect x="-3.8" y="13" width="7.6" height="23.5" fill="url(#mesh)" stroke-width="1.2"/>
<rect x="-3.8" y="38" width="7.6" height="26" fill="url(#mesh)" stroke-width="1.2"/>
<path d="M-4.6,64 H4.6 V74 H-4.6 Z" fill="#fff" stroke-width="1.2"/>
<path d="M-2.3,65 V73 M0,65 V73 M2.3,65 V73" stroke-width="0.8"/>
</g>
<path d="M697.5,449.5 C703,446 708.5,452 708.5,457 C708.5,462 705,465 700,466.5" fill="#fff" stroke-width="1.3"/>
<path d="M691,452.8 L697,451.3 L702,455.5 L702.5,462.5 L698,468.3 L691.5,468.4 L687.9,463 L688.2,456.5 Z" fill="#fff" stroke-width="1.3"/>
<path d="M692,455.5 C696,455 699,459 697,463 C695.5,466 692,466 690.5,464" stroke-width="1"/>
<path d="M697,451.3 L697.5,456.5 L702.5,462.5 M697.5,456.5 L694,459" stroke-width="0.8"/>
<!-- left hose -->
<path d="M605,402 L591.5,452" stroke-width="0.9" stroke-dasharray="7 2 2 2"/>
<g transform="translate(589.2 457) rotate(13.5)">
<path d="M-7,-2 L-5,-4.6 H5 L7,-2 V2 L5,4.6 H-5 L-7,2 Z" fill="#fff" stroke-width="1.3"/>
<path d="M-3.5,-2.8 H3.5 M0,-2.8 V4.6 M-7,0 H7" stroke-width="0.8"/>
<path d="M-5.2,4.6 H5.2 V15.8 H-5.2 Z" fill="url(#mesh)" stroke-width="1.1"/>
<path d="M-3.2,6 V14.5 M-1,6 V14.5 M1.2,6 V14.5 M3.4,6 V14.5" stroke="#fff" stroke-width="0.6"/>
<rect x="-4.6" y="15.8" width="9.2" height="27.5" fill="url(#mesh)" stroke-width="1.1"/>
<path d="M0,43.5 V53.5" stroke-width="0.8" stroke-dasharray="3 1.5"/>
<rect x="-4.6" y="53.5" width="9.2" height="24" fill="url(#mesh)" stroke-width="1.1"/>
<path d="M-5.2,77.5 H5.2 V87 H-5.2 Z" fill="#fff" stroke-width="1.2"/>
<path d="M-2.6,78.5 V86 M0,78.5 V86 M2.6,78.5 V86" stroke-width="0.8"/>
</g>
<path d="M563.5,543.5 C560,546 560.2,553 563.5,556 C566,558.5 571,558.5 573.5,556.5" fill="#fff" stroke-width="1.3"/>
<path d="M574,544.5 L580,545.5 L583.4,550.5 L582.5,556.8 L577.5,559.6 L572,558.3 L570,553 L571,547.5 Z" fill="#fff" stroke-width="1.3"/>
<path d="M570,547.5 C567,548.5 567.5,553 570.5,554.5 M574.5,548 L578,551.5 L577.5,556.8" stroke-width="0.9"/>
<!-- lower right parts -->
<use href="#icon" x="599" y="421.8"/>
<path d="M615.5,421 V455" stroke-width="0.9"/>
<path d="M603.3,466.3 V467.8 C604,472.5 627,472.5 627.7,467.8 V466.3" fill="#fff" stroke-width="1.2"/>
<ellipse cx="615.5" cy="466.2" rx="12.2" ry="6.4" fill="#fff" stroke-width="1.4"/>
<ellipse cx="615.5" cy="466" rx="7.4" ry="3.6" stroke-width="1.3"/>
<!-- clip -->
<path d="M630.2,487.7 C631,483 626,478.5 618,477.3 C611,476.8 606,480 605.7,485.1 C605.5,490 610,494 617,495.5 L617.3,492 C613,491 611,489 612.3,486.5 C613.5,487.5 617.5,487.5 618.5,485.5 C619.5,483.5 619.5,482 620.5,481.5 C624,482 627,484.5 630.2,487.7 Z" fill="#fff" stroke-width="1.3"/>
<ellipse cx="615.4" cy="483.3" rx="3.4" ry="2.4" stroke-width="1.1"/>
<path d="M606.5,488 C608,491.5 612,493.5 617,494.5" stroke-width="0.9"/>
<path d="M615.5,495 V503" stroke-width="0.9" stroke-dasharray="2.5 1.2"/>
<!-- small nut -->
<path d="M611.1,505.5 C611.1,503 620.5,503 620.5,505.5 V513 C620.5,515.8 611.1,515.8 611.1,513 Z" fill="#fff" stroke-width="1.3"/>
<path d="M611.3,508 C613,509.5 618.5,509.5 620.3,508 M613.5,508.8 V514.8 M617.5,508.8 V514.8" stroke-width="1"/>
<ellipse cx="615.8" cy="505.5" rx="2.5" ry="1.1" stroke-width="0.8"/>
<path d="M615.5,516 V522" stroke-width="0.9" stroke-dasharray="2.5 1.2"/>
<!-- sleeve -->
<path d="M603.2,528.5 V540.5 C603.2,548.5 627.8,548.5 627.8,540.5 V528.5" fill="#fff" stroke-width="1.3"/>
<ellipse cx="615.5" cy="528.5" rx="12.3" ry="5.9" fill="#fff" stroke-width="1.3"/>
<ellipse cx="615.5" cy="529.3" rx="9.4" ry="4.2" stroke-width="1"/>
<path d="M615.5,525 V535" stroke-width="0.9"/>
<path d="M615.5,547 V556" stroke-width="0.9" stroke-dasharray="2.5 1.2"/>
<!-- bottom hose connector -->
<path d="M611,557.5 L615,556.5 L621.5,557.5 L623,561 V566 L619.5,568.5 L613,568.5 L608.7,565.5 V560.5 Z" fill="#fff" stroke-width="1.3"/>
<ellipse cx="615.8" cy="560.5" rx="4" ry="2.3" stroke-width="1"/>
<path d="M615.8,562.5 V568.5 M608.8,562.5 L615.8,563 L623,562" stroke-width="0.8"/>
<path d="M613.5,568.5 C613,572 611,575.5 607.5,579 L610,586 C616,581 620.5,575.5 621.5,568.5" fill="#fff" stroke-width="1.3"/>
<g transform="translate(607.8 583.3) rotate(61)">
<path d="M-5.5,0 H5.5 V10 H-5.5 Z" fill="#fff" stroke-width="1.3"/>
<path d="M-3,1 V9 M0,1 V9 M3,1 V9" stroke-width="0.8"/>
<rect x="-4.6" y="10" width="9.2" height="26" fill="url(#mesh)" stroke-width="1.1"/>
</g>
</g>
<!-- center line segments through holes -->
<path d="M125.5,488 V530 M458.1,333 V370 M293.8,428 V462" stroke-width="0.9" stroke-dasharray="16 2.5 3 2.5"/>
<path d="M293.8,463.8 V471.8 M293.8,494.4 V499.6 M293.8,512.6 V517.4 M125.5,550.0 V558.8 M125.5,568.3 V576.7 M125.8,597.3 V605.7 M125.7,239.8 V248.4 M125.4,268.4 V276.4 M458.0,386.5 V392.7 M458.2,212.6 V219.0 M458.2,244.9 V249.2 M615.5,462.6 V469.4 M125.5,407.8 V413.0 M125.5,417.5 V422.7 M294.0,408.5 V422.5 M458.0,320.0 V331.5 M458.0,368.3 V376.9 M125.4,300.3 V313.9" stroke-width="0.9"/>
<!-- ============ BOTTOM / HOSES ============ -->
<g id="bot">
<g stroke-width="1.05" stroke-dasharray="35 3.5 5 3.5">
<!-- long diagonal from right hose -->
<path d="M578.6,597.2 L247.5,788.6"/>
<!-- hand shower line -->
<path d="M458.2,573 V640 C458.2,668 452,700 430,718 C420,726 405,734 385,746 L285.6,805"/>
<!-- hose 11 line -->
<path d="M293.8,588 V600 C293.8,625 275,650 230,657 C214,659 209.5,648 209.5,631"/>
<!-- left connector curve -->
<path d="M85,733 C80,745 80.5,775 83,790 C88,812 105,832 128,840 C145,845 165,838 185.1,825.6"/>
<!-- hose 10 down -->
<path d="M125.2,814 V846 C126,858 138,868 158.8,873.7 C168,874 178,870 185.1,865.6"/>
</g>
<!-- bracket left of elbows -->
<path d="M180.3,605 V689.6" stroke-width="1"/>
<path d="M180.3,605 L191,599.2 M180.3,689.6 L191.8,683" stroke-width="0.95" stroke-dasharray="4 2"/>
<path d="M162,638.7 L180.3,629.5" stroke-width="0.95" stroke-dasharray="10 2 2 2"/>
<!-- upper elbow -->
<path d="M199,587.5 C203,585.5 208,585 211,587.5 C213.5,590 213.8,595 213.5,598.4 L204,598.4 C204.5,596 203.5,593.5 201.5,592.5" fill="#fff" stroke-width="1.3"/>
<path d="M196.5,588 L200.7,586.7 L205.5,589.5 L206.2,595.5 L202.5,601.5 L197,603" fill="#fff" stroke-width="1.3"/>
<ellipse cx="196" cy="594.7" rx="4.6" ry="7.8" transform="rotate(15 196 594.7)" fill="#111" stroke-width="1.1"/>
<ellipse cx="196.2" cy="594.5" rx="2.2" ry="4" transform="rotate(15 196.2 594.5)" fill="none" stroke="#fff" stroke-width="0.7"/>
<path d="M205.5,589.5 L201,593 L202.5,601.5" stroke-width="0.9"/>
<path d="M203.9,598.4 H214.4 V610.9 H203.9 Z" fill="#fff" stroke-width="1.3"/>
<path d="M206.5,599.5 V610 M209.2,599.5 V610 M212,599.5 V610" stroke-width="0.9"/>
<rect x="205.4" y="610.9" width="8.2" height="19.9" fill="url(#mesh)" stroke-width="1.1"/>
<!-- lower elbow -->
<path d="M201,670.5 C204,668.5 207,668.2 209,668.2 C213,668.5 215.6,673 215.6,677 V686 C212,688.5 206,688.5 203.9,686 Z" fill="#fff" stroke-width="1.3"/>
<path d="M203.9,682.6 C206,684.5 213,684.5 215.6,682.6 V686 C212,688.8 206,688.8 203.9,686 Z" fill="#111" stroke-width="1"/>
<path d="M198,671 L201.5,670 L206,673 L207,679.5 L203.5,686 L199,687.5" fill="#fff" stroke-width="1.3"/>
<ellipse cx="196.5" cy="678.9" rx="5" ry="8.6" transform="rotate(15 196.5 678.9)" fill="#111" stroke-width="1.1"/>
<ellipse cx="196.5" cy="678.9" rx="2.4" ry="4.4" transform="rotate(15 196.5 678.9)" fill="none" stroke="#fff" stroke-width="0.7"/>
<path d="M206,673 L202,676 L203.5,686" stroke-width="0.9"/>
<path d="M209.5,688.5 V694" stroke-width="0.9"/>
<!-- nut below -->
<path d="M199.2,699.5 V705 L203,710.7 H214.5 L218.7,705 V699.5" fill="#fff" stroke-width="1.3"/>
<path d="M203,703 V710.7 M214.5,703 V710.7 M199.2,702 L203,703 H214.5 L218.7,702" stroke-width="1"/>
<ellipse cx="208.95" cy="699.5" rx="9.75" ry="5" fill="#111" stroke-width="1.2"/>
<ellipse cx="208.95" cy="700.3" rx="5.8" ry="2.8" fill="#fff" stroke-width="0.9"/>
<path d="M203.1,710.7 V720.8 H215.6 V710.7" fill="#fff" stroke-width="1.3"/>
<path d="M206.3,711.5 V720 M209.3,711.5 V720 M212.3,711.5 V720" stroke-width="0.9"/>
<rect x="204.3" y="720.8" width="9.7" height="29.9" fill="url(#mesh)" stroke-width="1.1"/>
<path d="M209.2,750.7 V761" stroke-width="0.8" stroke-dasharray="2 1.2"/>
<rect x="204.3" y="761" width="9.7" height="28.7" fill="url(#mesh)" stroke-width="1.1"/>
<path d="M202.7,789.5 H215.3 V803.1 H202.7 Z" fill="#fff" stroke-width="1.3"/>
<path d="M205.5,790.5 V802 M209,790.5 V802 M212.5,790.5 V802" stroke-width="0.9"/>
<path d="M204,803 C204.5,810 208,817 214.5,823.5 L221,816.5 C216,812 214.5,808 214.8,803" fill="#fff" stroke-width="1.3"/>
<path d="M216.5,815.5 L222.5,813.9 L229.5,817 L230,824 L227,830.5 L220,832.4 L214.7,828 L214.4,821 Z" fill="#fff" stroke-width="1.3"/>
<path d="M222.5,813.9 L223,820.5 L230,824 M223,820.5 L219,824.5 L220,832.4" stroke-width="0.9"/>
<ellipse cx="226.5" cy="824.5" rx="2.6" ry="4.5" transform="rotate(-30 226.5 824.5)" fill="#111" stroke-width="0.8"/>
<path d="M225.1,826.5 L253.4,845.1" stroke-width="1"/>
</g>
<!-- ============ GRAY FIXTURE ============ -->
<g id="gray" stroke="#9d9d9d" stroke-width="0.9" fill="#fff">
<path d="M304.2,821.5 L298.8,879.6" fill="none"/>
<!-- hanger -->
<path d="M258.5,829 L266.5,822 M258.5,829 C262,830 268,832 272,835 C274,837 275.5,840 275,843 M274,836 L284,828" fill="none"/>
<!-- left body -->
<path d="M247.4,861 C246.8,866 247,872 247.6,874.5 C250,876.5 255,876.3 256.8,874 L256.8,866 C258.5,864 259,860 257.5,857.5 Z"/>
<path d="M247.6,871 C250,873.2 254.5,873 256.8,870.8 V874 C255,876.3 250,876.5 247.6,874.5 Z" fill="#9a9a9a" stroke="none"/>
<path d="M253.8,852.5 L262.5,850.5 L264,861.5 L256,863.5 Z" fill="#9a9a9a"/>
<path d="M259,848.7 L258.7,842 C259.5,839.3 264.5,839.3 265,842 L265.5,848 Z"/>
<ellipse cx="261.9" cy="841.5" rx="3.1" ry="1.6"/>
<path d="M262.6,865 L266.5,890.8 M265.2,865 L269.3,890.8" fill="none"/>
<path d="M271.2,871.3 L275.5,890.8 M275.5,871.3 L279,890.8" fill="none"/>
<path d="M271.2,871.3 L275.5,870.8 L277.2,881.5 L272.8,882 Z" fill="#9a9a9a" stroke="none"/>
<path d="M262.5,862 L266.5,861.5 L267.3,867 L263.3,867.5 Z" fill="#fff"/>
<!-- round dial -->
<path d="M271,845 C266.5,846 264,850 264.2,857 C264.5,864 267.5,870 272.5,872 L277.5,872.5 C271,868 269,860 270.5,852 C271.5,848 273.5,846 276.5,844.5 Z" fill="#9a9a9a"/>
<ellipse cx="282.5" cy="856.6" rx="11.4" ry="14.8" transform="rotate(14 282.5 856.6)"/>
<ellipse cx="283.2" cy="856.8" rx="9.6" ry="12.8" transform="rotate(14 283.2 856.8)" fill="none"/>
<ellipse cx="284.5" cy="851.5" rx="1.9" ry="0.9" transform="rotate(-25 284.5 851.5)" fill="#9a9a9a"/>
<!-- spout -->
<path d="M310.8,837.3 L326.4,829.2 V844 L321.2,849.7 L310.8,854.9 Z"/>
<path d="M326.4,829.2 L324.5,830.3 V845 M312.5,837 V853.8" fill="none"/>
<path d="M315.4,840.6 L323.2,836.7 L360.2,858.8 C363,860.5 363,864 361.5,865.5 C359,867.5 355,867.5 352.5,866 L315.4,844.5 Z"/>
<path d="M315.4,844.5 V840.6 M315.4,844 L352.5,865.3 C355,866.5 359,866 361.5,864.5" fill="none"/>
<ellipse cx="319.8" cy="836.2" rx="1.4" ry="0.7" transform="rotate(-28 319.8 836.2)" fill="#9d9d9d"/>
</g>
<!-- ============ * = crossed box ============ -->
<g id="xbox">
<path d="M402.6,862.7 V867 M402.6,867 L397.9,865.9 M402.6,867 L407.3,865.9 M402.6,867 L399.6,871 M402.6,867 L405.6,871" stroke-width="1.7" stroke-linecap="butt"/>
<path d="M419.2,875 H433.6 M419.2,880.3 H433.6" stroke-width="2.2" stroke-linecap="round"/>
<!-- tray -->
<path d="M460.5,884.5 V890.2 L479.3,899.6 L521.3,876.4 V869.8 L503.5,861 Z" fill="#fff" stroke-width="1.2"/>
<path d="M460.5,884.5 L479.3,893.5 L521.3,869.8 M479.3,893.5 V899.6" stroke-width="1.1"/>
<path d="M464.5,884 L479.5,891 L516.5,870.2 L502.5,863.5 Z" fill="#ececec" stroke-width="0.9"/>
<!-- lid -->
<path d="M455,862.6 L500.4,837.7 L507.8,856.5 L463.7,883.4 Z" fill="#fff" stroke-width="1.3"/>
<path d="M462.1,858.4 L496.5,839.7 M455,862.6 L462.1,858.4" stroke-width="1.6"/>
<path d="M496.5,840.9 L503.9,859.2" stroke-width="1"/>
<path d="M463.5,880.5 L479,872 M464,883 L480,874.5" stroke-width="0.9"/>
<path d="M464.3,881.8 L478.5,874 L480,877 L466,884.5 Z" fill="#bdbdbd" stroke="none"/>
<text x="0" y="0" font-size="7.2" font-weight="bold" transform="translate(472.5 862.3) rotate(-28.8)" style="fill:#fff;stroke:#000;stroke-width:1.2;paint-order:stroke;letter-spacing:0.1px">GROHE</text>
<g stroke-width="1.25">
<path d="M477.7,864.6 C480,861.8 482,864.2 484.3,861.8 C486.6,859.3 488.6,861.5 491,859 C492.3,857.7 493.3,857.4 494.5,856.5 M479.3,867 C481.6,864.2 483.6,866.6 485.9,864.2 C488.2,861.7 490.2,863.9 492.6,861.4 C493.5,860.4 494,860 494.3,858.6 M480.9,869.3 C483.2,866.5 485.2,868.9 487.5,866.5 C489.8,864 491.8,866.2 493,863.7 C493.6,862.5 494,861.8 494.1,860.7"/>
<path d="M466,867 C463.5,863.5 466.5,860.5 470,862 C472,863.5 471,866.5 469,867"/>
<path d="M467.5,871 L471.5,868.5 M468.5,873.3 L472.5,870.8 M469.5,875.5 L473.5,873"/>
</g>
<!-- X -->
<path d="M439.9,839.6 L533.6,910.3 M439.9,910.3 L533.6,839.6" stroke-width="2.1" stroke-linecap="butt"/>
</g>
<!-- ============ BOX 13 ============ -->
<g id="box13">
<rect x="550.5" y="824.8" width="157.1" height="96.7" fill="none" stroke-width="1.5"/>
<path d="M614.4,824.8 V921.5" stroke-width="1.3"/>
<path d="M575.0,843.4 V829.1 M574.8,829.6 C574.1,831.3 572.6,832.1 570.4,832.4" stroke-width="1.60" stroke-linecap="butt" fill="none"/><text x="580.4" y="843.5" font-size="20.5">3</text>
<path d="M556,846.1 H603.7" stroke-width="1.1"/>
<text x="644.4" y="837.9" font-size="10.3">32mm</text>
<path d="M627.8,875.3 H698" stroke-width="1.1"/>
<!-- gray cartridge -->
<g stroke="#8e8e8e" stroke-width="0.9" fill="#fff">
<path d="M571.2,901.8 V909 L575,912.3 H592 L595.7,909 V901.8 Z"/>
<path d="M575,903 V912 M582,904 V912.3 M592,903 V912 M571.3,903.5 C576,906.5 591,906.5 595.6,903.5" fill="none"/>
<path d="M572.3,870 V901.8 C576,905 591,905 594.7,901.8 V870 Z"/>
<path d="M571.5,864.4 V872 C573,877.5 593,877.5 594.7,872 V864.4"/>
<ellipse cx="583.1" cy="864.4" rx="12" ry="6.4"/>
<ellipse cx="583.1" cy="867" rx="8.5" ry="3.5" fill="none"/>
<path d="M574.5,860 V866 M580,858.5 V864.5 M587,858.3 V864.5 M592,860 V866 M576,868.5 V875 M583,870 V876.5 M590,868.5 V875" fill="none"/>
<ellipse cx="575.5" cy="881.5" rx="2" ry="2.7" fill="#fff"/>
<ellipse cx="574.3" cy="898" rx="2" ry="2.9" fill="#8e8e8e"/>
<ellipse cx="590.5" cy="890.5" rx="3.3" ry="1.6" transform="rotate(-25 590.5 890.5)" fill="#8e8e8e"/>
<ellipse cx="590.3" cy="880.5" rx="1" ry="1.3" fill="#8e8e8e"/>
<ellipse cx="590.3" cy="898.8" rx="1" ry="1.3" fill="#8e8e8e"/>
</g>
<!-- top nut -->
<ellipse cx="660.2" cy="856.6" rx="21.2" ry="13.6" fill="#fff" stroke-width="1.5"/>
<path d="M640.5,859 C643,867 677,867 680,859 M641.5,862 C645,869 675,869 679,862" stroke-width="0.9"/>
<ellipse cx="660.2" cy="856.2" rx="18.8" ry="11.4" stroke-width="1.1"/>
<path d="M645.5,855 L647.5,847 L658,843.5 L672,845.5 L676.5,852 L674,859.5 L661,863 L648,861 Z" fill="#fff" stroke-width="1.3"/>
<path d="M645.7,857.5 L648,863 L661,865.5 L674,862 L676.3,855" stroke-width="0.9"/>
<ellipse cx="659.8" cy="853.4" rx="10.6" ry="4.6" stroke-width="1.6"/>
<!-- bottom nut -->
<path d="M640,888 V912.5 C642,922 679,922 680.8,912.5 V888 Z" fill="#fff" stroke-width="1.5"/>
<path d="M640.3,894 C643,903 678,903 680.5,894 V902 C678,911 643,911 640.3,902 Z" fill="#111"/>
<path d="M640.3,903.2 C643,912.2 678,912.2 680.5,903.2 V905 C678,914 643,914 640.3,905 Z" fill="#111"/>
<path d="M640.3,906 C643,915 678,915 680.5,906 V907.5 C678,916.5 643,916.5 640.3,907.5 Z" fill="#111"/>
<ellipse cx="660.4" cy="888" rx="20.4" ry="9.6" fill="#fff" stroke-width="1.5"/>
<path d="M644.5,887 L647,881 L659,878.8 L673,880.8 L676.5,886.5 L673.5,893 L661,895.5 L647.5,893.2 Z" fill="#fff" stroke-width="1.3"/>
<ellipse cx="660.2" cy="886.6" rx="10.3" ry="4.6" stroke-width="1.6"/>
<path d="M652,893.5 C655,895.5 666,895.5 669,893.5" stroke-width="0.8"/>
</g>
</g>
</g>
</svg>
<div class="bl"></div>
</body></html>
